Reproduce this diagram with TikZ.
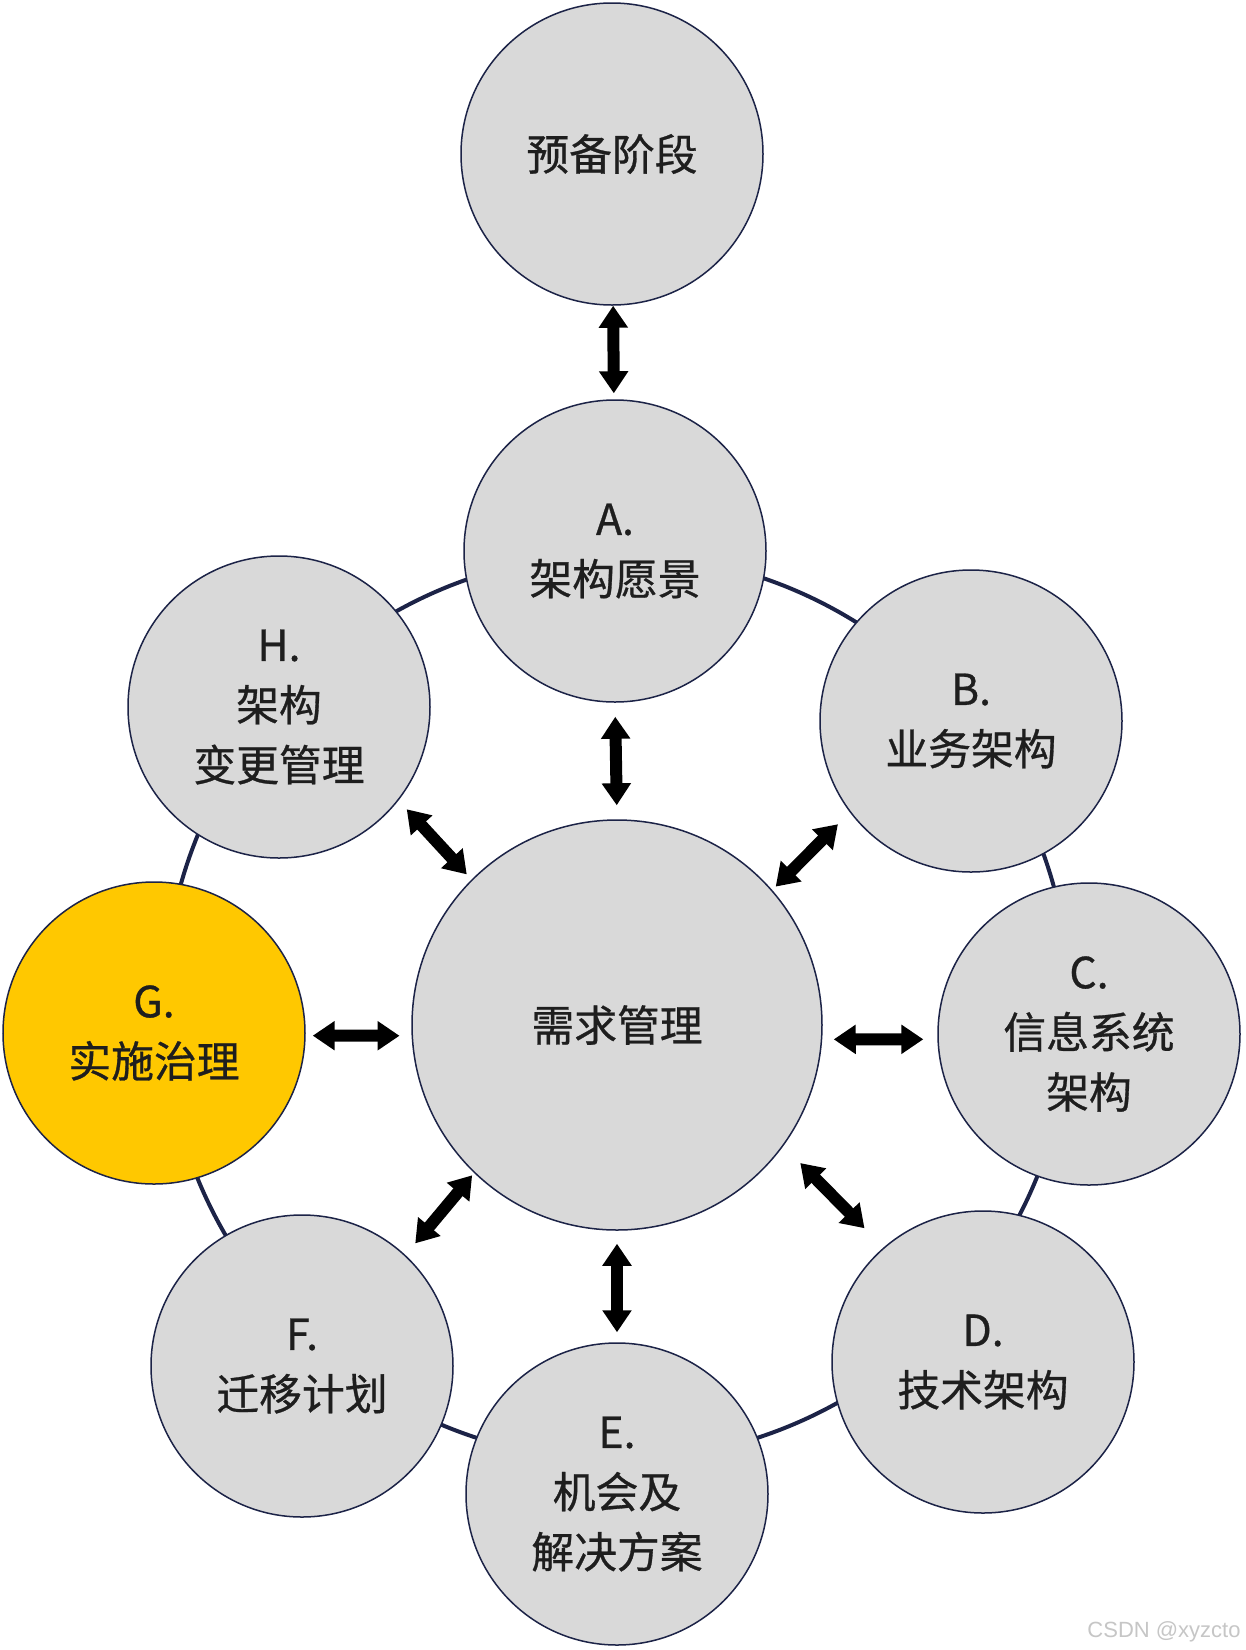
\documentclass[tikz,border=0pt]{standalone}
\usepackage{fontspec}
\usetikzlibrary{arrows.meta}
\newfontfamily\cjk[FakeBold=0.7]{Noto Sans CJK SC}
\newfontfamily\wmfont{Liberation Sans}
\definecolor{stagegray}{HTML}{D9D9D9}
\definecolor{stageline}{HTML}{1C2347}
\definecolor{govyellow}{HTML}{FFC800}
\definecolor{stagetext}{HTML}{1E1E1E}

\begin{document}
\begin{tikzpicture}[x=0.5pt,y=-0.5pt,
	phase/.style={circle,draw=stageline,line width=0.75pt,fill=stagegray,minimum size=151pt,inner sep=0pt,
		align=center,text=stagetext,font=\cjk\fontsize{21.4}{30}\selectfont},
	hubphase/.style={phase,minimum size=205pt},
	dblarrow/.style={{Triangle[length=11pt,width=14pt]}-{Triangle[length=11pt,width=14pt]},line width=6pt},
	ring/.style={draw=stageline,line width=2pt}]
	  \useasboundingbox (0,0) rectangle (1246,1650);
	  \fill[white] (0,0) rectangle (1246,1650);   % background

	  \draw[ring] (617,1007) circle[radius=226.5pt];   % ring behind the phases

	  % phases
	  \node[phase] (prelim) at (612,154) {预备阶段};
	  \node[phase] (visn) at (615,551) {A.\\架构愿景};
	  \node[phase] (biz) at (971,721) {B.\\业务架构};
	  \node[phase] (info) at (1089,1034) {C.\\信息系统\\架构};
	  \node[phase] (tech) at (983,1362) {D.\\技术架构};
	  \node[phase] (opp) at (617,1494) {E.\\机会及\\解决方案};
	  \node[phase] (migr) at (302,1366) {F.\\迁移计划};
	  \node[phase,fill=govyellow] (gov) at (154,1033) {G.\\实施治理};
	  \node[phase] (chg) at (279,707) {H.\\架构\\变更管理};
	  \node[hubphase] (req) at (617,1025) {需求管理};

	  % arrows to the centre (anchor angles / shortening)
	  \foreach \p/\a/\b/\s/\e in {visn/south/north/7/7, biz/-143/41/8.4/2.4, info/-178/-4/7/5.75,
	    tech/131.5/-36.7/13.5/12, opp/north/south/5/6.5, migr/47/-134/7.6/1.5,
	    gov/-1/-177/3.5/6, chg/-38/135/6/3.5}
	    \draw[dblarrow,shorten <=\s pt,shorten >=\e pt] (\p.\a) -- (req.\b);
	  \draw[dblarrow,shorten >=3pt] (prelim) -- (visn);

	  \node[anchor=east,inner sep=0pt,font=\wmfont\fontsize{11}{13}\selectfont,text=gray!45] (mark) at (1241,1632) {CSDN @xyzcto};
\end{tikzpicture}
\end{document}
